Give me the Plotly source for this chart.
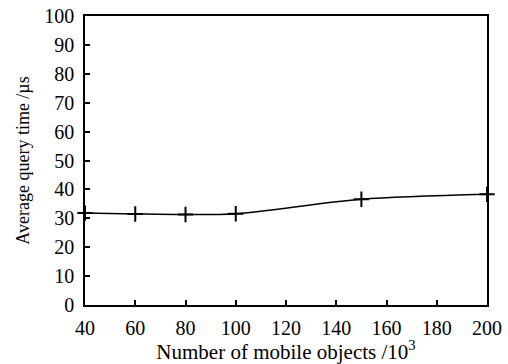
import plotly.graph_objects as go

x_vals = [40, 60, 80, 100, 150, 200]
y_vals = [31.8, 31.5, 31.3, 31.6, 36.6, 38.3]
x_ticks = [40, 60, 80, 100, 120, 140, 160, 180, 200]
y_ticks = [0, 10, 20, 30, 40, 50, 60, 70, 80, 90, 100]

fig = go.Figure()
fig.add_trace(go.Scatter(
    x=x_vals, y=y_vals, mode="lines+markers",
    line=dict(color="black", width=1.5, shape="spline", smoothing=0.8),
    marker=dict(symbol="cross-thin", size=11, line=dict(color="black", width=2)),
    cliponaxis=False, showlegend=False,
))

SERIF = "Liberation Serif"
font = dict(family=SERIF, size=20, color="black")
fig.update_layout(
    width=508, height=364,
    margin=dict(l=85, r=21, t=16, b=59, autoexpand=False),
    paper_bgcolor="white", plot_bgcolor="white",
    font=font,
)
fig.update_xaxes(
    range=[40, 200], tickvals=x_ticks, ticktext=[str(v) for v in x_ticks],
    ticks="inside", ticklen=5, tickwidth=1.5, tickcolor="black",
    showline=True, linecolor="black", linewidth=1.5, mirror=True,
    showgrid=False, zeroline=False, automargin=False,
    title=dict(text="Number of mobile objects /10<sup>3</sup>", font=dict(family=SERIF, size=21), standoff=1),
    tickfont=dict(family=SERIF, size=20), ticklabelstandoff=4,
)
fig.update_yaxes(
    range=[0, 100], tickvals=y_ticks, ticktext=[str(v) for v in y_ticks],
    ticks="inside", ticklen=5, tickwidth=1.5, tickcolor="black",
    showline=True, linecolor="black", linewidth=1.5, mirror=True,
    showgrid=False, zeroline=False, automargin=False,
    title=dict(text="Average query time /µs", font=dict(family=SERIF, size=18), standoff=10),
    tickfont=dict(family=SERIF, size=20), ticklabelstandoff=5,
)
fig.write_html("out.html")
